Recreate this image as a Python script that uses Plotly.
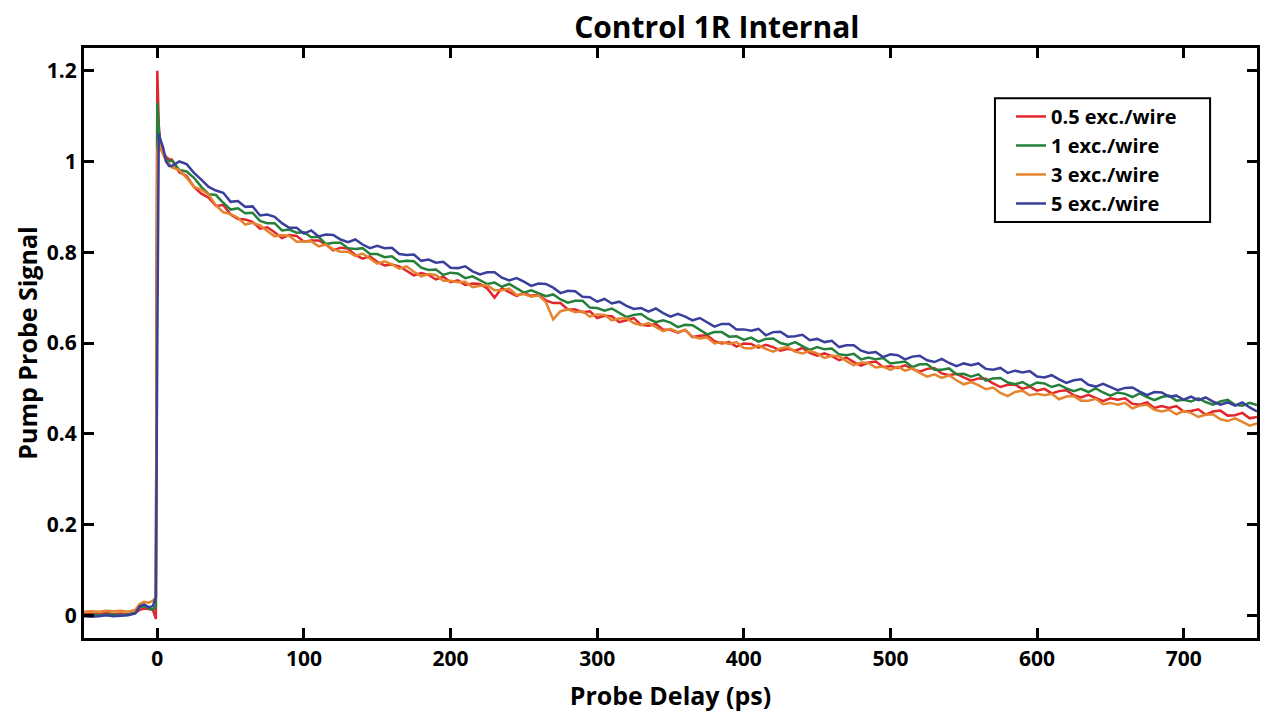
import plotly.graph_objects as go

# probe delay grid (ps)
pre_delay = [-50, -45, -40, -35, -30, -25, -20, -15, -12, -9, -6, -3, -1, 0, 1, 2, 4, 6, 8]
delay = pre_delay + list(range(10, 755, 5))

labels = ['0.5 exc./wire', '1 exc./wire', '3 exc./wire', '5 exc./wire']
colors = ['#e3262b', '#25803a', '#e5832f', '#3a3f9c']

red = [0.003, 0.004, 0.002, 0.005, 0.003, 0.004, 0.002, 0.006, 0.012, 0.015, 0.014, 0.012, -0.008, 1.2, 1.08, 1.04, 1.02, 1.01, 1.005,
       1.004, 0.976, 0.968, 0.944, 0.929, 0.920, 0.902, 0.904, 0.883, 0.873, 0.872, 0.867, 0.852, 0.855, 0.844, 0.831, 0.838, 0.836, 0.823,
       0.826, 0.826, 0.817, 0.804, 0.810, 0.808, 0.794, 0.786, 0.791, 0.779, 0.771, 0.773, 0.769, 0.759, 0.749, 0.754, 0.750, 0.740, 0.746, 0.734,
       0.738, 0.728, 0.731, 0.730, 0.720, 0.700, 0.721, 0.712, 0.704, 0.710, 0.704, 0.706, 0.694, 0.688, 0.688, 0.674, 0.674, 0.668, 0.670, 0.655,
       0.660, 0.659, 0.646, 0.650, 0.655, 0.640, 0.638, 0.642, 0.629, 0.629, 0.623, 0.629, 0.613, 0.616, 0.617, 0.604, 0.599, 0.602, 0.592, 0.599,
       0.598, 0.590, 0.596, 0.591, 0.583, 0.587, 0.583, 0.589, 0.578, 0.572, 0.577, 0.571, 0.562, 0.568, 0.558, 0.550, 0.557, 0.559, 0.547, 0.549,
       0.545, 0.551, 0.543, 0.537, 0.543, 0.545, 0.533, 0.529, 0.532, 0.524, 0.517, 0.522, 0.521, 0.511, 0.503, 0.508, 0.508, 0.499, 0.504, 0.495,
       0.499, 0.489, 0.494, 0.496, 0.485, 0.480, 0.486, 0.479, 0.472, 0.478, 0.475, 0.478, 0.466, 0.464, 0.469, 0.457, 0.461, 0.457, 0.461, 0.449,
       0.450, 0.454, 0.442, 0.449, 0.451, 0.440, 0.441, 0.446, 0.434, 0.437]

green = [0.0, 0.001, 0.0, 0.002, 0.001, 0.0, 0.002, 0.005, 0.018, 0.02, 0.016, 0.012, 0.02, 1.13, 1.07, 1.04, 1.02, 1.005, 1.0,
         1.002, 0.981, 0.978, 0.964, 0.944, 0.928, 0.926, 0.909, 0.894, 0.897, 0.886, 0.887, 0.869, 0.864, 0.864, 0.848, 0.850, 0.843, 0.844,
         0.833, 0.834, 0.818, 0.821, 0.821, 0.809, 0.807, 0.809, 0.796, 0.796, 0.789, 0.791, 0.779, 0.781, 0.780, 0.766, 0.761, 0.762, 0.750, 0.755,
         0.753, 0.743, 0.747, 0.738, 0.730, 0.733, 0.724, 0.730, 0.721, 0.711, 0.716, 0.710, 0.703, 0.707, 0.696, 0.689, 0.693, 0.693, 0.678, 0.677,
         0.671, 0.676, 0.666, 0.657, 0.662, 0.664, 0.653, 0.646, 0.650, 0.645, 0.635, 0.640, 0.639, 0.629, 0.619, 0.624, 0.624, 0.614, 0.615, 0.607,
         0.612, 0.603, 0.609, 0.610, 0.600, 0.596, 0.602, 0.593, 0.585, 0.591, 0.586, 0.588, 0.575, 0.573, 0.576, 0.564, 0.568, 0.564, 0.567, 0.555,
         0.557, 0.559, 0.547, 0.553, 0.553, 0.541, 0.541, 0.544, 0.531, 0.532, 0.526, 0.531, 0.517, 0.522, 0.523, 0.513, 0.509, 0.514, 0.505, 0.513,
         0.511, 0.503, 0.508, 0.500, 0.494, 0.499, 0.492, 0.500, 0.491, 0.484, 0.491, 0.488, 0.481, 0.489, 0.481, 0.474, 0.481, 0.484, 0.473, 0.475,
         0.471, 0.478, 0.470, 0.464, 0.471, 0.475, 0.464, 0.462, 0.468, 0.463]

orange = [0.008, 0.009, 0.008, 0.010, 0.009, 0.010, 0.008, 0.012, 0.025, 0.030, 0.028, 0.032, 0.040, 1.02, 1.05, 1.03, 1.015, 1.0, 0.995,
          0.987, 0.981, 0.964, 0.944, 0.938, 0.927, 0.903, 0.888, 0.884, 0.876, 0.861, 0.865, 0.859, 0.847, 0.835, 0.838, 0.836, 0.823, 0.823,
          0.824, 0.813, 0.817, 0.807, 0.801, 0.801, 0.792, 0.797, 0.786, 0.775, 0.780, 0.773, 0.764, 0.769, 0.757, 0.747, 0.752, 0.750, 0.737, 0.737,
          0.734, 0.735, 0.723, 0.726, 0.727, 0.716, 0.716, 0.720, 0.706, 0.708, 0.702, 0.705, 0.690, 0.652, 0.670, 0.674, 0.668, 0.670, 0.658, 0.663,
          0.662, 0.650, 0.654, 0.654, 0.644, 0.639, 0.644, 0.635, 0.626, 0.631, 0.624, 0.629, 0.614, 0.610, 0.612, 0.599, 0.602, 0.598, 0.602, 0.589,
          0.588, 0.595, 0.587, 0.581, 0.588, 0.591, 0.581, 0.577, 0.583, 0.577, 0.567, 0.572, 0.571, 0.560, 0.551, 0.557, 0.556, 0.546, 0.548, 0.541,
          0.548, 0.539, 0.544, 0.534, 0.526, 0.531, 0.523, 0.529, 0.518, 0.509, 0.514, 0.507, 0.498, 0.502, 0.490, 0.483, 0.492, 0.495, 0.485, 0.488,
          0.485, 0.488, 0.476, 0.482, 0.483, 0.473, 0.473, 0.477, 0.465, 0.468, 0.464, 0.468, 0.456, 0.462, 0.464, 0.453, 0.449, 0.453, 0.443, 0.450,
          0.446, 0.437, 0.442, 0.443, 0.432, 0.428, 0.434, 0.426, 0.418, 0.423]

blue = [-0.002, -0.003, -0.002, 0.0, -0.002, -0.001, 0.0, 0.004, 0.020, 0.024, 0.018, 0.020, 0.040, 0.60, 1.06, 1.05, 1.03, 1.0, 0.99,
        0.990, 1.000, 0.994, 0.975, 0.960, 0.944, 0.936, 0.931, 0.911, 0.913, 0.900, 0.901, 0.881, 0.883, 0.878, 0.864, 0.854, 0.854, 0.841,
        0.848, 0.835, 0.839, 0.838, 0.828, 0.822, 0.828, 0.817, 0.809, 0.814, 0.809, 0.810, 0.796, 0.794, 0.795, 0.781, 0.784, 0.777, 0.779, 0.766,
        0.765, 0.769, 0.758, 0.751, 0.756, 0.756, 0.744, 0.738, 0.743, 0.735, 0.726, 0.731, 0.730, 0.722, 0.710, 0.715, 0.714, 0.702, 0.701, 0.691,
        0.697, 0.687, 0.691, 0.682, 0.675, 0.677, 0.669, 0.676, 0.666, 0.658, 0.664, 0.658, 0.650, 0.655, 0.645, 0.636, 0.642, 0.642, 0.630, 0.630,
        0.627, 0.631, 0.617, 0.624, 0.625, 0.614, 0.615, 0.618, 0.606, 0.609, 0.602, 0.605, 0.591, 0.595, 0.595, 0.583, 0.578, 0.580, 0.569, 0.575,
        0.573, 0.564, 0.570, 0.572, 0.562, 0.558, 0.565, 0.556, 0.549, 0.555, 0.551, 0.555, 0.543, 0.541, 0.545, 0.534, 0.539, 0.535, 0.538, 0.526,
        0.524, 0.529, 0.520, 0.512, 0.518, 0.520, 0.508, 0.504, 0.510, 0.503, 0.496, 0.501, 0.502, 0.493, 0.485, 0.492, 0.491, 0.482, 0.484, 0.475,
        0.482, 0.474, 0.480, 0.471, 0.464, 0.469, 0.462, 0.469, 0.458, 0.449]

FONT = 'Open Sans'

fig = go.Figure()
for name, ys, col in zip(labels, [red, green, orange, blue], colors):
    fig.add_trace(go.Scatter(x=delay[:len(ys)], y=ys, mode='lines', name=name,
                             line=dict(color=col, width=2.5)))

axis_common = dict(showline=True, linecolor='black', linewidth=3, mirror='ticks',
                   ticks='inside', ticklen=10, tickwidth=3, tickcolor='black',
                   showgrid=False, zeroline=False, automargin=False,
                   tickfont=dict(family=FONT, size=21, color='black', weight='bold'))

fig.update_xaxes(range=[-50, 750], dtick=100, tick0=0,
                 title=dict(text='Probe Delay (ps)', standoff=17,
                            font=dict(family=FONT, size=25, color='black', weight='bold')),
                 **axis_common)
fig.update_yaxes(range=[-0.05, 1.25], dtick=0.2, tick0=0,
                 title=dict(text='Pump Probe Signal', standoff=3,
                            font=dict(family=FONT, size=25, color='black', weight='bold')),
                 **axis_common)

# legend frame drawn as a shape so its padding matches the original
fig.add_shape(type='rect', xref='paper', yref='paper',
              x0=0.7766, x1=0.960, y0=0.705, y1=0.915,
              line=dict(color='black', width=2), fillcolor='white', layer='below')

fig.update_layout(
    width=1262, height=715,
    paper_bgcolor='white', plot_bgcolor='white',
    margin=dict(l=84, r=5, t=48, b=77),
    title=dict(text='Control 1R Internal', x=0.568, xanchor='center',
               y=0.961, yanchor='middle', yref='container',
               font=dict(family=FONT, size=30, color='black', weight='bold')),
    legend=dict(x=0.7903, y=0.917, xanchor='left', yanchor='top',
                borderwidth=0, bgcolor='rgba(0,0,0,0)',
                font=dict(family=FONT, size=20, color='black', weight='bold'),
                tracegroupgap=0, itemwidth=30),
    showlegend=True,
)

fig.write_html('out.html', config={'displayModeBar': False},
               post_script="document.body.style.margin='0';document.body.style.overflow='hidden';")
